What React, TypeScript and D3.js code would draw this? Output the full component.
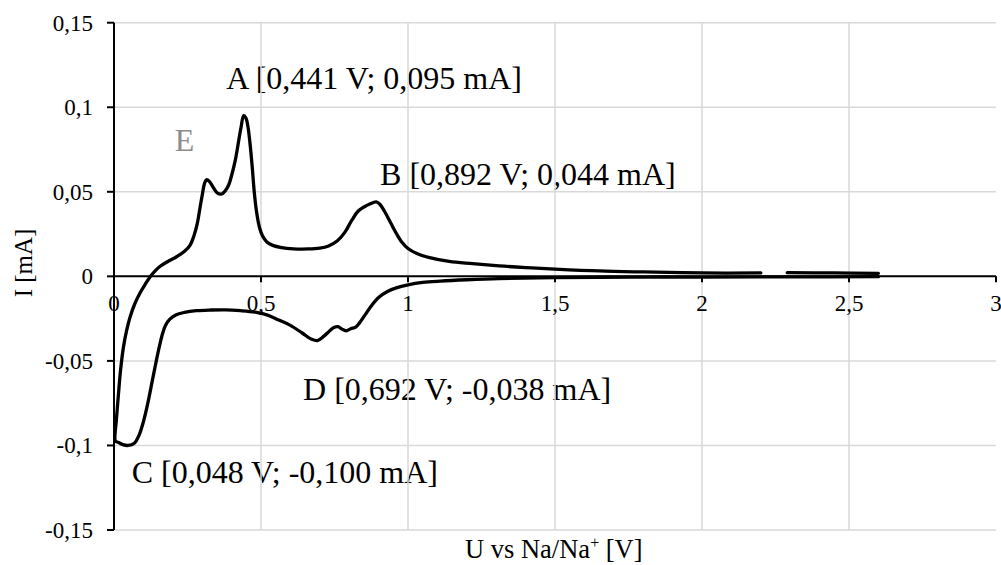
import React from 'react';
import { scaleLinear, line, curveCatmullRom } from 'd3';

// cyclic voltammogram, cathodic sweep from 2.6 V down, then anodic back up
const cathodicU = [2.6, 2.3, 2.0, 1.77, 1.5, 1.31, 1.2, 1.11, 1.05, 1.0, 0.96, 0.93, 0.9, 0.875, 0.855, 0.835, 0.822, 0.805, 0.79, 0.775, 0.762, 0.748, 0.735, 0.715, 0.692, 0.672, 0.64, 0.6, 0.56, 0.52, 0.48, 0.43, 0.38, 0.33, 0.28, 0.24, 0.21, 0.19, 0.175, 0.165, 0.155, 0.145, 0.13, 0.115, 0.1, 0.085, 0.07, 0.048, 0.03, 0.015, 0.005];
const cathodicI = [-0.0002, -0.0003, -0.0004, -0.0004, -0.0008, -0.0013, -0.002, -0.0028, -0.0036, -0.005, -0.0068, -0.009, -0.0125, -0.0175, -0.0225, -0.0275, -0.03, -0.031, -0.0322, -0.0312, -0.0298, -0.0302, -0.032, -0.0352, -0.038, -0.0372, -0.0335, -0.029, -0.0258, -0.0228, -0.0212, -0.0203, -0.0198, -0.0199, -0.0203, -0.0213, -0.0228, -0.0253, -0.029, -0.034, -0.041, -0.049, -0.062, -0.075, -0.086, -0.094, -0.0985, -0.1, -0.0995, -0.0982, -0.0975];

// NaN marks the gap in the recorded data near 2.25 V
const anodicU = [0.003, 0.008, 0.015, 0.022, 0.032, 0.043, 0.054, 0.07, 0.088, 0.105, 0.122, 0.14, 0.156, 0.18, 0.213, 0.24, 0.259, 0.272, 0.283, 0.292, 0.3, 0.308, 0.315, 0.325, 0.338, 0.352, 0.366, 0.378, 0.39, 0.402, 0.413, 0.422, 0.432, 0.441, 0.449, 0.456, 0.463, 0.47, 0.477, 0.485, 0.494, 0.505, 0.52, 0.54, 0.57, 0.61, 0.66, 0.7, 0.73, 0.76, 0.785, 0.81, 0.83, 0.85, 0.87, 0.892, 0.905, 0.92, 0.94, 0.96, 0.98, 1.0, 1.03, 1.07, 1.14, 1.22, 1.31, 1.4, 1.5, 1.65, 1.8, 2.0, 2.2, NaN, 2.29, 2.45, 2.6];
const anodicI = [-0.096, -0.085, -0.07, -0.056, -0.042, -0.032, -0.0245, -0.0165, -0.01, -0.005, -0.0005, 0.0032, 0.0058, 0.0085, 0.0116, 0.0148, 0.0185, 0.024, 0.031, 0.04, 0.048, 0.055, 0.0572, 0.056, 0.0525, 0.0492, 0.0487, 0.0505, 0.054, 0.061, 0.069, 0.078, 0.088, 0.095, 0.0935, 0.088, 0.078, 0.065, 0.05, 0.038, 0.0295, 0.024, 0.0203, 0.0183, 0.017, 0.0163, 0.0162, 0.0167, 0.018, 0.021, 0.026, 0.0335, 0.0385, 0.041, 0.0428, 0.044, 0.0425, 0.0385, 0.032, 0.0255, 0.02, 0.0165, 0.0135, 0.0112, 0.0088, 0.0075, 0.0062, 0.0052, 0.0043, 0.0032, 0.0026, 0.002, 0.002, NaN, 0.0022, 0.002, 0.0018];

const xTicks = [0, 0.5, 1, 1.5, 2, 2.5, 3];
const xTickLabels = ['0', '0,5', '1', '1,5', '2', '2,5', '3'];
const yTicks = [0.15, 0.1, 0.05, 0, -0.05, -0.1, -0.15];
const yTickLabels = ['0,15', '0,1', '0,05', '0', '-0,05', '-0,1', '-0,15'];

const peakLabels = [
  { text: 'A [0,441 V; 0,095 mA]', u: 0.382, i: 0.111, color: '#000' },
  { text: 'B [0,892 V; 0,044 mA]', u: 0.905, i: 0.054, color: '#000' },
  { text: 'C [0,048 V; -0,100 mA]', u: 0.06, i: -0.122, color: '#000' },
  { text: 'D [0,692 V; -0,038 mA]', u: 0.643, i: -0.073, color: '#000' },
  { text: 'E', u: 0.207, i: 0.074, color: '#8c8c8c' },
];

const W = 1001;
const H = 565;
const font = '"Liberation Serif", "Times New Roman", serif';

export default function App() {
  const x = scaleLinear().domain([0, 3]).range([114, 996]);
  const y = scaleLinear().domain([-0.15, 0.15]).range([530, 22.7]);

  const pts = cathodicU.map((u, k) => [u, cathodicI[k]]).concat(anodicU.map((u, k) => [u, anodicI[k]]));

  const path = line()
    .defined((d) => !isNaN(d[0]))
    .x((d) => x(d[0]))
    .y((d) => y(d[1]))
    .curve(curveCatmullRom.alpha(0.5));

  const y0 = y(0);

  return (
    <svg width={W} height={H} style={{ position: 'absolute', left: 0, top: 0, background: '#fff' }}>
      {/* annotations sit under the grid, like in the original */}
      {peakLabels.map((p) => (
        <text key={p.text} x={x(p.u)} y={y(p.i)} fontFamily={font} fontSize={32} fill={p.color}>
          {p.text}
        </text>
      ))}

      {/* grid */}
      {yTicks.filter((t) => t !== 0).map((t) => (
        <line key={'gy' + t} x1={x(0)} x2={x(3)} y1={y(t)} y2={y(t)} stroke="#d9d9d9" strokeWidth={1.5} />
      ))}
      {xTicks.filter((t) => t > 0 && t < 3).map((t) => (
        <line key={'gx' + t} x1={x(t)} x2={x(t)} y1={y(0.15)} y2={y(-0.15)} stroke="#d9d9d9" strokeWidth={1.5} />
      ))}

      {/* y axis */}
      <line x1={x(0)} x2={x(0)} y1={y(0.15)} y2={y(-0.15)} stroke="#000" strokeWidth={2} />
      {yTicks.map((t, k) => (
        <g key={'ty' + t}>
          <line x1={x(0) - 7} x2={x(0)} y1={y(t)} y2={y(t)} stroke="#000" strokeWidth={2} />
          <text x={93} y={y(t) + 8} textAnchor="end" fontFamily={font} fontSize={23} fill="#000">
            {yTickLabels[k]}
          </text>
        </g>
      ))}

      {/* x axis on zero line */}
      <line x1={x(0)} x2={x(3)} y1={y0} y2={y0} stroke="#000" strokeWidth={2} />
      {xTicks.map((t, k) => (
        <g key={'tx' + t}>
          <line x1={x(t)} x2={x(t)} y1={y0} y2={y0 + 6} stroke="#000" strokeWidth={2} />
          <text x={x(t)} y={y0 + 35} textAnchor="middle" fontFamily={font} fontSize={23} fill="#000">
            {xTickLabels[k]}
          </text>
        </g>
      ))}

      <path d={path(pts)} fill="none" stroke="#000" strokeWidth={3.3} strokeLinejoin="round" strokeLinecap="round" />

      {/* axis titles */}
      <text x={465} y={558} fontFamily={font} fontSize={26.5} fill="#000">
        U vs Na/Na<tspan fontSize={16} dy={-10}>+</tspan>
        <tspan dy={10}> [V]</tspan>
      </text>
      <text transform="translate(32,263) rotate(-90)" textAnchor="middle" fontFamily={font} fontSize={25} fill="#000">
        I [mA]
      </text>
    </svg>
  );
}
